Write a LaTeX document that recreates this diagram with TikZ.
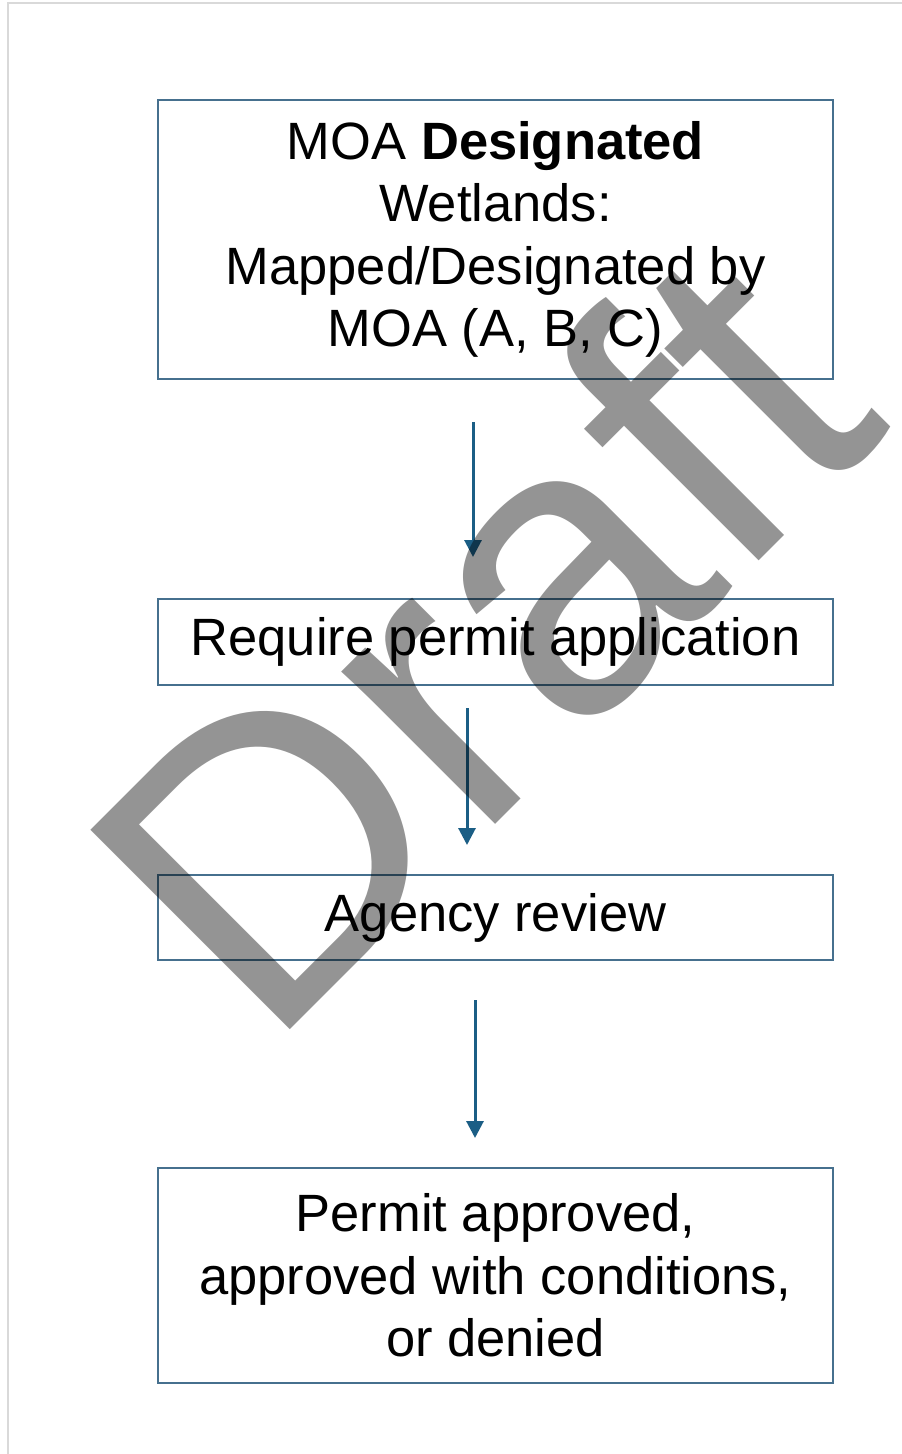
\documentclass[tikz,border=0pt]{standalone}
\usepackage{fontspec}
\setmainfont{Liberation Sans}
\usetikzlibrary{arrows.meta}
\definecolor{boxline}{HTML}{46708E}
\definecolor{arrowcol}{HTML}{1B5E85}
\definecolor{pageframe}{HTML}{D9D9D9}
\begin{document}
\begin{tikzpicture}[x=1pt,y=-1pt,
  flowbox/.style={draw=boxline, line width=2.2pt, fill=white, minimum width=675pt,
    align=center, inner sep=0pt, font=\fontsize{52.5}{62.5}\selectfont},
  flowarrow/.style={draw=arrowcol, line width=3pt,
    -{Triangle[width=17pt,length=17pt]}, arrowcol},
  watermark/.style={text=black, text opacity=0.42, inner sep=0pt,
    font=\fontsize{410}{410}\selectfont}]
\useasboundingbox (0,0) rectangle (902,1454);
\fill[white] (0,0) rectangle (902,1454);
\draw[pageframe, line width=1.5pt] (8,1454) -- (8,3) -- (902,3);
\node[flowbox, minimum height=279pt] (b1) at (495.5,239.5)
  {MOA \textbf{Designated}\\Wetlands:\\Mapped/Designated by\\MOA (A, B, C)};
\node[flowbox, minimum height=86pt] (b2) at (495.5,642)
  {Require permit application};
\node[flowbox, minimum height=85pt] (b3) at (495.5,917.5)
  {Agency review};
\node[flowbox, minimum height=215pt] (b4) at (495.5,1275.5)
  {Permit approved,\\approved with conditions,\\or denied};
\coordinate (a1s) at (473,422);
\coordinate (a1e) at (473,557);
\coordinate (a2s) at (467,708);
\coordinate (a2e) at (467,845);
\coordinate (a3s) at (475,1000);
\coordinate (a3e) at (475,1138);
\draw[flowarrow] (a1s) -- (a1e);
\draw[flowarrow] (a2s) -- (a2e);
\draw[flowarrow] (a3s) -- (a3e);
\node[watermark, anchor=base west, rotate=45] (wm) at (266,1054) {Draft};
\end{tikzpicture}
\end{document}
